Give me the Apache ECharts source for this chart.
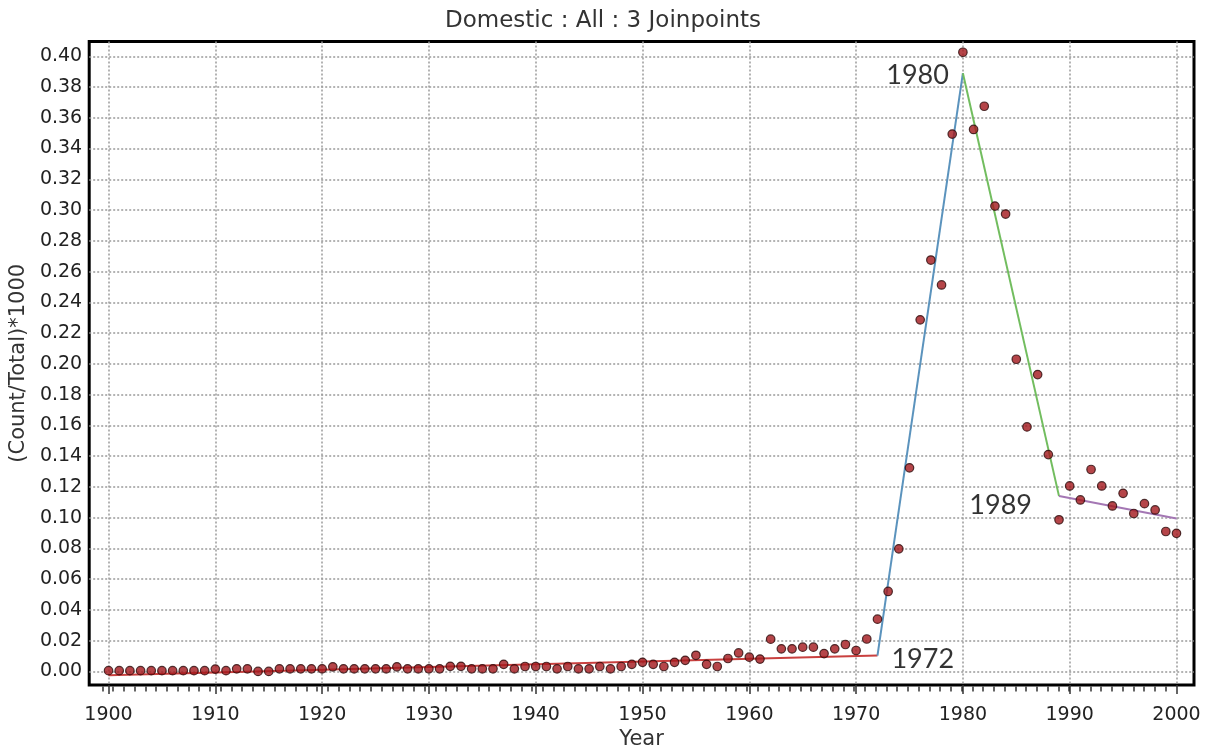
<!DOCTYPE html>
<html>
<head>
<meta charset="utf-8">
<script src="https://cdn.jsdelivr.net/npm/echarts@6/dist/echarts.min.js"></script>
<style>
html,body{margin:0;padding:0;background:#fff;}
#chart{width:1206px;height:755px;}
</style>
</head>
<body>
<div id="chart"></div>
<script>
// ---- data ----
const years = [1900,1901,1902,1903,1904,1905,1906,1907,1908,1909,
  1910,1911,1912,1913,1914,1915,1916,1917,1918,1919,
  1920,1921,1922,1923,1924,1925,1926,1927,1928,1929,
  1930,1931,1932,1933,1934,1935,1936,1937,1938,1939,
  1940,1941,1942,1943,1944,1945,1946,1947,1948,1949,
  1950,1951,1952,1953,1954,1955,1956,1957,1958,1959,
  1960,1961,1962,1963,1964,1965,1966,1967,1968,1969,
  1970,1971,1972,1973,1974,1975,1976,1977,1978,1979,
  1980,1981,1982,1983,1984,1985,1986,1987,1988,1989,
  1990,1991,1992,1993,1994,1995,1996,1997,1998,1999,2000];
const observed = [0.0005,0.0005,0.0005,0.0005,0.0005,0.0005,0.0005,0.0005,0.0005,0.0005,
  0.0015,0.0005,0.0017,0.0017,0.0000,0.0000,0.0017,0.0017,0.0017,0.0017,
  0.0017,0.0030,0.0017,0.0017,0.0017,0.0017,0.0017,0.0030,0.0017,0.0017,
  0.0017,0.0017,0.0033,0.0033,0.0017,0.0017,0.0017,0.0046,0.0017,0.0032,
  0.0032,0.0032,0.0017,0.0032,0.0017,0.0017,0.0032,0.0017,0.0032,0.0046,
  0.0059,0.0046,0.0032,0.0059,0.0072,0.0105,0.0046,0.0032,0.0084,0.0120,
  0.0093,0.0080,0.0210,0.0147,0.0147,0.0158,0.0158,0.0116,0.0147,0.0175,
  0.0136,0.0211,0.0340,0.0520,0.0797,0.1324,0.2286,0.2675,0.2513,0.3494,
  0.4026,0.3524,0.3675,0.3026,0.2974,0.2030,0.1590,0.1930,0.1410,0.0986,
  0.1206,0.1115,0.1313,0.1206,0.1076,0.1158,0.1027,0.1091,0.1050,0.0910,0.0898];
const joinYears = [1900, 1972, 1980, 1989, 2000];
const fitted = [-0.0025, 0.0103, 0.389, 0.114, 0.0995];
const segmentColors = ['#c9403f', '#5b93bd', '#72bd5f', '#a477b4'];
const joinLabels = ['1972', '1980', '1989'];
const xTicks = [1900,1910,1920,1930,1940,1950,1960,1970,1980,1990,2000];
const yTicks = [0,0.02,0.04,0.06,0.08,0.10,0.12,0.14,0.16,0.18,0.20,0.22,0.24,0.26,0.28,0.30,0.32,0.34,0.36,0.38,0.40];
const titleText = 'Domestic : All : 3 Joinpoints';
const xName = 'Year';
const yName = '(Count/Total)*1000';

// ---- build ----
const font = 'DejaVu Sans';
const xMin = 1898.19, xMax = 2001.64;
const gridBox = {left: 83, right: 12, top: 41.5, bottom: 68.5};
const segSeries = [];
for (let i = 0; i < joinYears.length - 1; i++) {
  segSeries.push({
    type: 'line', xAxisIndex: 0, yAxisIndex: 0,
    data: [[joinYears[i], fitted[i]], [joinYears[i+1], fitted[i+1]]],
    symbol: 'none', lineStyle: {color: segmentColors[i], width: 2}, z: 4, silent: true
  });
}
const labelStyles = [
  {position: 'right', distance: 14, offset: [0, 4]},
  {position: 'left', distance: 14, offset: [0, 2]},
  {position: 'left', distance: 27, offset: [0, 9]}
];
const joinData = joinLabels.map((t, k) => ({
  value: [joinYears[k+1], fitted[k+1]],
  label: Object.assign({show: true, formatter: t, color: '#000', fontSize: 27, fontFamily: 'Lato'}, labelStyles[k])
}));

const chart = echarts.init(document.getElementById('chart'), null, {renderer: 'canvas'});
chart.setOption({
  animation: false,
  backgroundColor: '#fff',
  title: {
    text: titleText, left: 'center', top: 5,
    textStyle: {fontFamily: font, fontSize: 23, fontWeight: 'normal', color: '#333'}
  },
  grid: [Object.assign({
    show: true, borderColor: '#000', borderWidth: 3, backgroundColor: '#fff', containLabel: false
  }, gridBox), Object.assign({show: false, containLabel: false}, gridBox)],
  xAxis: [{
    type: 'value', min: xMin, max: xMax, position: 'bottom', gridIndex: 0,
    name: xName, nameLocation: 'middle', nameGap: 42,
    nameTextStyle: {fontFamily: font, fontSize: 21, color: '#333'},
    axisLine: {show: false, onZero: false},
    axisTick: {show: true, customValues: xTicks, length: 9, lineStyle: {color: '#333', width: 1.5}},
    axisLabel: {customValues: xTicks, margin: 20, fontFamily: font, fontSize: 19, color: '#222',
      formatter: v => String(Math.round(v))},
    splitLine: {show: true, lineStyle: {color: '#9a9a9a', width: 1.5, type: [2, 2]}}
  }, {
    type: 'value', min: xMin, max: xMax, position: 'bottom', gridIndex: 1,
    axisLine: {show: false, onZero: false},
    axisTick: {show: true, customValues: years, length: 5, lineStyle: {color: '#333', width: 1.5}},
    axisLabel: {show: false},
    splitLine: {show: false}
  }],
  yAxis: [{
    type: 'value', min: -0.00889, max: 0.4096, gridIndex: 0,
    name: yName, nameLocation: 'middle', nameGap: 60,
    nameTextStyle: {fontFamily: font, fontSize: 21, color: '#333'},
    axisLine: {show: false, onZero: false},
    axisTick: {show: false, customValues: yTicks},
    axisLabel: {customValues: yTicks, margin: 7, fontFamily: font, fontSize: 19, color: '#222',
      formatter: v => v.toFixed(2)},
    splitLine: {show: true, lineStyle: {color: '#9a9a9a', width: 1.5, type: [2, 2]}}
  }, {
    type: 'value', min: -0.00889, max: 0.4096, gridIndex: 1,
    axisLine: {show: false, onZero: false}, axisTick: {show: false}, axisLabel: {show: false}, splitLine: {show: false}
  }],
  series: segSeries.concat([{
    type: 'scatter', xAxisIndex: 0, yAxisIndex: 0,
    data: years.map((y, i) => [y, observed[i]]),
    symbol: 'circle', symbolSize: 8.5,
    itemStyle: {color: '#a3161c', borderColor: '#2a0a0a', borderWidth: 1.2},
    z: 5, silent: true
  }, {
    type: 'scatter', xAxisIndex: 0, yAxisIndex: 0,
    data: joinData, symbolSize: 0, z: 6, silent: true
  }])
});
</script>
</body>
</html>
